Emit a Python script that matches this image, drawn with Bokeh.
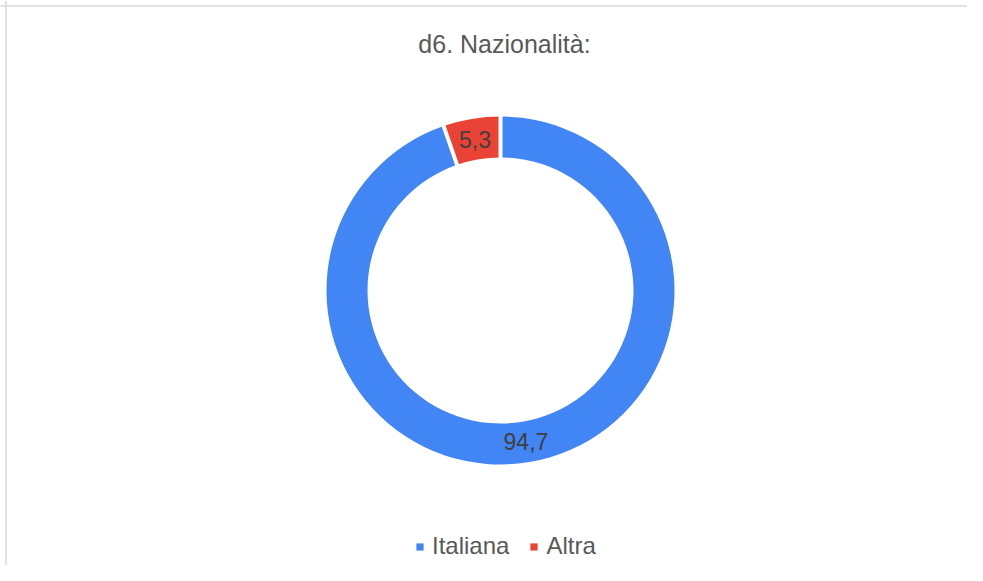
import numpy as np
from bokeh.plotting import figure
from bokeh.models import Range1d, Legend, LegendItem, Label, ColumnDataSource, Span
from bokeh.core.properties import value
from bokeh.embed import file_html
from bokeh.resources import INLINE

title_text = "d6. Nazionalità:"
categories = ["Italiana", "Altra"]
values = [94.7, 5.3]
labels = ["94,7", "5,3"]
colors = ["#4285F4", "#EA4335"]

FONT = "Liberation Sans"
W, H = 967, 565
CX, CY = 500, 290            # donut centre in canvas pixels (from top-left)
R_OUT, R_IN = 174, 133

frac = np.array(values) / sum(values)
cum = np.concatenate([[0.0], np.cumsum(frac)])
start = np.pi / 2 - 2 * np.pi * cum[:-1]
end = np.pi / 2 - 2 * np.pi * cum[1:]
mid = (start + end) / 2
r_mid = (R_OUT + R_IN) / 2

src = ColumnDataSource(dict(
    cat=categories, start=start, end=end, color=colors, label=labels,
    lx=r_mid * np.cos(mid), ly=r_mid * np.sin(mid),
    x0=np.zeros(len(values)), y0=np.zeros(len(values)),
))

p = figure(width=W, height=H, x_range=Range1d(-CX, W - CX), y_range=Range1d(-(H - CY), CY),
           output_backend="svg", toolbar_location=None, min_border=0,
           x_axis_location=None, y_axis_location=None, outline_line_color=None)
p.grid.visible = False

# light frame on the left and top edges
p.add_layout(Span(location=5.5 - CX, dimension="height", line_color="#d9d9d9", line_width=1.5))
p.add_layout(Span(location=CY - 5.5, dimension="width", line_color="#d9d9d9", line_width=1.5))

r = p.annular_wedge(x="x0", y="y0", inner_radius=R_IN, outer_radius=R_OUT,
                    start_angle="start", end_angle="end", direction="clock",
                    fill_color="color", line_color=None, source=src)

# white separators between slices
b = np.pi / 2 - 2 * np.pi * cum[:-1]
p.segment(x0=(R_IN - 2) * np.cos(b), y0=(R_IN - 2) * np.sin(b),
          x1=(R_OUT + 2) * np.cos(b), y1=(R_OUT + 2) * np.sin(b),
          line_color="white", line_width=4)

p.text(x="lx", y="ly", text="label", source=src, text_align="center",
       text_baseline="middle", text_font=value(FONT), text_font_size="23px",
       text_color="#404040")

p.add_layout(Label(x=4, y=CY - 43, text=title_text, text_align="center",
                   text_baseline="middle", text_font=FONT, text_font_size="25px",
                   text_color="#595959"))

legend = Legend(items=[LegendItem(label=c, renderers=[r], index=i) for i, c in enumerate(categories)],
                location=(415, 5), orientation="horizontal",
                border_line_color=None, background_fill_alpha=0, padding=0, margin=0,
                glyph_width=9, glyph_height=9, label_standoff=8, spacing=20,
                label_text_font=FONT, label_text_font_size="24px", label_text_color="#595959")
p.add_layout(legend, "center")

open("out.html", "w").write(file_html(p, INLINE))
